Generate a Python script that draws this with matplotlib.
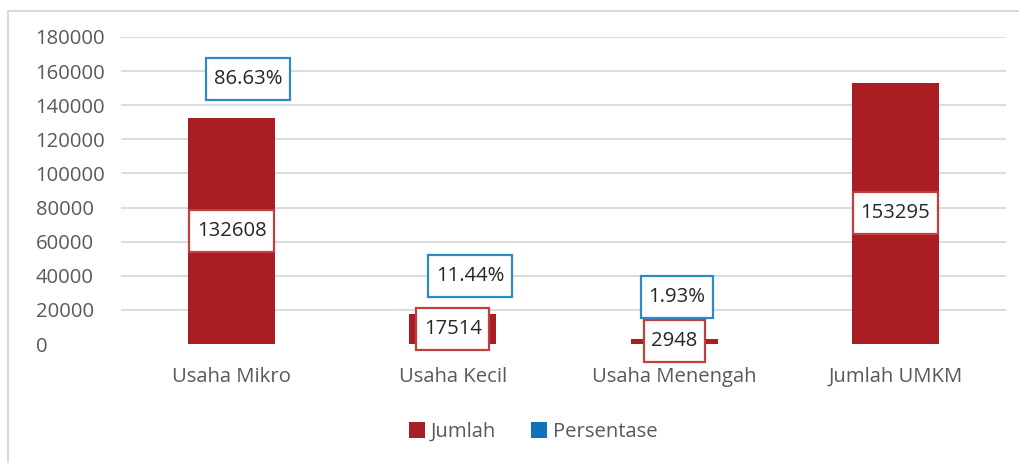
import matplotlib.pyplot as plt
from matplotlib.patches import Patch, Rectangle
from matplotlib.transforms import IdentityTransform
import numpy as np

plt.rcParams['font.family'] = ['Open Sans', 'DejaVu Sans']

categories = ["Usaha Mikro", "Usaha Kecil", "Usaha Menengah", "Jumlah UMKM"]
jumlah = [132608, 17514, 2948, 153295]
persentase = [86.63, 11.44, 1.93]
# where the percentage callouts sit (x offset from category, height in data units)
pct_x_offset = [0.074, 0.077, 0.012]
pct_y = [155400, 39900, 27600]

bar_color = "#A81E22"
red_edge = "#C0403F"
blue_edge = "#2E8AC6"
legend_blue = "#0E73B8"
grid_color = "#D9D9D9"
text_color = "#595959"
fs = 14.6

fig = plt.figure(figsize=(10.19, 4.63), dpi=100)
ax = fig.add_axes([121 / 1019, 1 - 344 / 463, 885 / 1019, 307 / 463])

x = np.arange(len(categories))
ax.bar(x, jumlah, width=0.393, color=bar_color, zorder=2)

ax.set_xlim(-0.5, 3.5)
ax.set_ylim(0, 180000)
ax.set_yticks(np.arange(0, 180001, 20000))
ax.set_yticklabels([str(v) for v in range(0, 180001, 20000)], ha='left')
ax.yaxis.grid(True, color=grid_color, linewidth=1.3, zorder=0)
ax.yaxis.get_gridlines()[0].set_visible(False)
ax.set_axisbelow(True)
ax.set_xticks(x)
ax.set_xticklabels(categories)
ax.tick_params(axis='both', length=0, labelsize=fs, colors=text_color)
ax.tick_params(axis='y', pad=61.5)
ax.tick_params(axis='x', pad=16.5)
for s in ax.spines.values():
	s.set_visible(False)

labels = []
for i, v in enumerate(jumlah):
	t = ax.text(i, v / 2, str(v), ha='center', va='center', fontsize=fs, color="#262626", zorder=5)
	labels.append((t, red_edge))
for i, p in enumerate(persentase):
	t = ax.text(i + pct_x_offset[i], pct_y[i], "{:.2f}%".format(p), ha='center', va='center',
		fontsize=fs, color="#262626", zorder=5)
	labels.append((t, blue_edge))

# boxed labels: fixed height, width follows the text
fig.canvas.draw()
renderer = fig.canvas.get_renderer()
for t, ec in labels:
	bb = t.get_window_extent(renderer)
	x0, y0 = ax.transData.transform((t.get_position()))
	w = bb.width + 15
	h = 42
	box = Rectangle((x0 - w / 2, y0 - h / 2), w, h, transform=IdentityTransform(),
		facecolor="white", edgecolor=ec, linewidth=1.6, zorder=3, clip_on=False)
	ax.add_artist(box)

handles = [Patch(facecolor=bar_color, label="Jumlah"), Patch(facecolor=legend_blue, label="Persentase")]
fig.legend(handles=handles, loc='center', bbox_to_anchor=(533 / 1019, 1 - 432 / 463), ncol=2,
	frameon=False, fontsize=fs, handlelength=0.8, handleheight=0.8, handletextpad=0.3,
	columnspacing=1.7, labelcolor=text_color)

# chart frame, only the top and left edges fall inside the image
fig.patches.append(Rectangle((8 / 1019, -0.1), 1.2, 1.1 - 11 / 463, transform=fig.transFigure,
	fill=False, edgecolor=grid_color, linewidth=1.5))

fig.savefig("out.png", dpi=100)
